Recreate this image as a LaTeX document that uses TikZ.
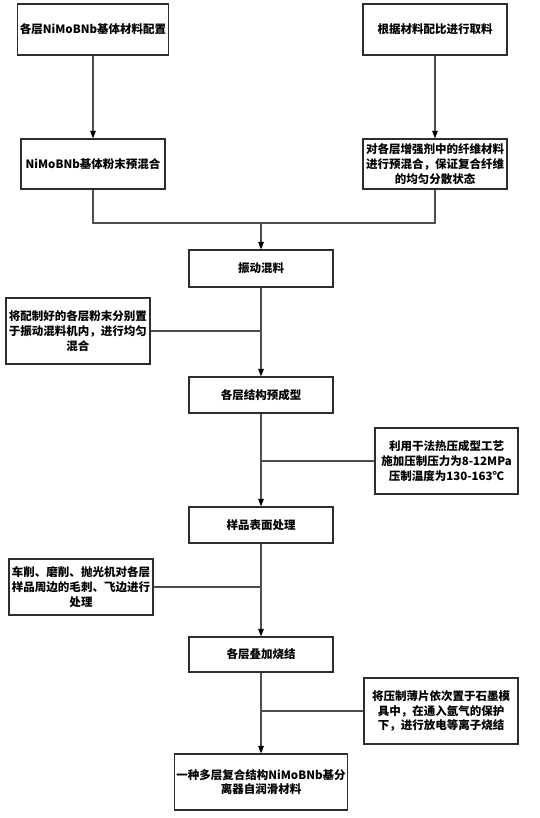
\documentclass[tikz,border=0pt]{standalone}
\usepackage{fontspec}
\setmainfont{Noto Sans CJK SC}
\usetikzlibrary{arrows.meta}
\definecolor{boxline}{HTML}{2E2E2E}
\definecolor{conline}{HTML}{4D4D4D}
\tikzset{
  box/.style={draw=boxline, line width=1.1pt, minimum width=144pt, inner sep=2pt, align=center,
    font=\bfseries\fontsize{11.5pt}{14.8pt}\selectfont, text=black},
  con/.style={draw=conline, line width=1.1pt},
  arr/.style={con, -{Triangle[width=5.5pt,length=7.5pt,color=black]}},
}
\begin{document}
\begin{tikzpicture}[x=1pt,y=-1pt]
\useasboundingbox (0,0) rectangle (539,818);
\node[box, minimum height=51pt] (a1) at (93,29.5) {各层NiMoBNb基体材料配置};
\node[box, minimum height=51pt] (b1) at (435,29.5) {根据材料配比进行取料};
\node[box, minimum height=50pt] (a2) at (93,164) {NiMoBNb基体粉末预混合};
\node[box, minimum height=50pt] (b2) at (435,164) {对各层增强剂中的纤维材料\\进行预混合，保证复合纤维\\的均匀分散状态};
\node[box, minimum height=37pt] (c1) at (261,268.5) {振动混料};
\node[box, minimum height=66pt] (s1) at (78,331) {将配制好的各层粉末分别置\\于振动混料机内，进行均匀\\混合};
\node[box, minimum height=36pt] (c2) at (261,395) {各层结构预成型};
\node[box, minimum width=143pt, minimum height=66pt] (s2) at (446.5,461) {利用干法热压成型工艺\\施加压制压力为8-12MPa\\压制温度为130-163℃};
\node[box, minimum height=36pt] (c3) at (261,525) {样品表面处理};
\node[box, minimum height=56pt] (s3) at (81,587) {车削、磨削、抛光机对各层\\样品周边的毛刺、飞边进行\\处理};
\node[box, minimum height=35pt] (c4) at (261,654.5) {各层叠加烧结};
\node[box, minimum width=154pt, minimum height=66pt] (s4) at (441,711) {将压制薄片依次置于石墨模\\具中，在通入氩气的保护\\下，进行放电等离子烧结};
\node[box, minimum width=164pt, minimum height=56pt] (c5) at (261,782) {一种多层复合结构NiMoBNb基分\\离器自润滑材料};

\coordinate (m1) at (261,223);
\draw[arr] (a1) -- (a2);
\draw[arr] (b1) -- (b2);
\draw[con] (a2.south) |- (m1) -| (b2.south);
\draw[arr] (m1) -- (c1);
\draw[arr] (c1) -- (c2);
\draw[con] (s1.east) -- (s1.east -| c1.south);
\draw[arr] (c2) -- (c3);
\draw[con] (s2.west) -- (s2.west -| c2.south);
\draw[arr] (c3) -- (c4);
\draw[con] (s3.east) -- (s3.east -| c3.south);
\draw[arr] (c4) -- (c5);
\draw[con] (s4.west) -- (s4.west -| c4.south);
\end{tikzpicture}
\end{document}
